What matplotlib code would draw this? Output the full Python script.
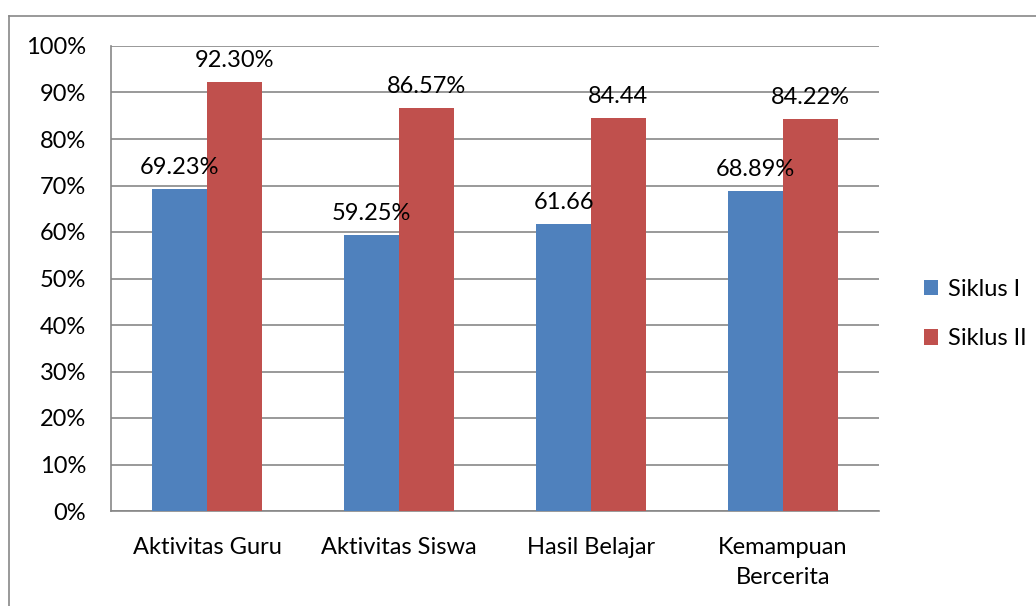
import matplotlib
matplotlib.use("Agg")
import matplotlib.pyplot as plt
import numpy as np
from matplotlib.lines import Line2D

categories = ["Aktivitas Guru", "Aktivitas Siswa", "Hasil Belajar", "Kemampuan\nBercerita"]
siklus1 = [69.23, 59.25, 61.66, 68.89]
siklus2 = [92.30, 86.57, 84.44, 84.22]
labels1 = ["69.23%", "59.25%", "61.66", "68.89%"]
labels2 = ["92.30%", "86.57%", "84.44", "84.22%"]
yticks = [0, 10, 20, 30, 40, 50, 60, 70, 80, 90, 100]

plt.rcParams['font.family'] = ['Lato', 'DejaVu Sans']
fs = 17

fig = plt.figure(figsize=(10.36, 6.06), dpi=100)
W, H = 1036, 606
ax = fig.add_axes([111/W, 1-511/H, (879-111)/W, (511-46)/H])

x = np.arange(len(categories))
w = 2/7
blue = "#4F81BD"
red = "#C0504D"
b1 = ax.bar(x - w/2, siklus1, w, color=blue, label="Siklus I", zorder=3)
b2 = ax.bar(x + w/2, siklus2, w, color=red, label="Siklus II", zorder=3)

for r, t in zip(b1, labels1):
    ax.text(r.get_x() + r.get_width()/2, r.get_height() + 2.4, t, ha='center', va='bottom', fontsize=fs, zorder=4)
for r, t in zip(b2, labels2):
    ax.text(r.get_x() + r.get_width()/2, r.get_height() + 2.4, t, ha='center', va='bottom', fontsize=fs, zorder=4)

ax.set_xlim(-0.5, len(categories) - 0.5)
ax.set_ylim(0, 100)
ax.set_yticks(yticks)
ax.set_yticklabels([f"{v}%" for v in yticks], fontsize=fs)
ax.set_xticks(x)
ax.set_xticklabels(categories, fontsize=fs, linespacing=1.5)
ax.tick_params(axis='both', length=0)
ax.tick_params(axis='y', pad=18)
ax.tick_params(axis='x', pad=19)
ax.grid(axis='y', color='#878787', linewidth=1.2, zorder=0)
for s in ['top', 'right']:
    ax.spines[s].set_visible(False)
for s in ['left', 'bottom']:
    ax.spines[s].set_color('#878787')
    ax.spines[s].set_linewidth(1.2)

ax.legend(loc='center left', bbox_to_anchor=(912/W, 1-314/H), bbox_transform=fig.transFigure,
          frameon=False, fontsize=fs, handlelength=0.62, handleheight=0.62,
          handletextpad=0.4, labelspacing=1.2, borderpad=0)

# outer border (top and left)
fig.add_artist(Line2D([9/W, 1], [1-16/H, 1-16/H], transform=fig.transFigure, color='#888888', linewidth=1.2))
fig.add_artist(Line2D([9/W, 9/W], [0, 1-16/H], transform=fig.transFigure, color='#888888', linewidth=1.2))

fig.savefig("out.png", dpi=100)
